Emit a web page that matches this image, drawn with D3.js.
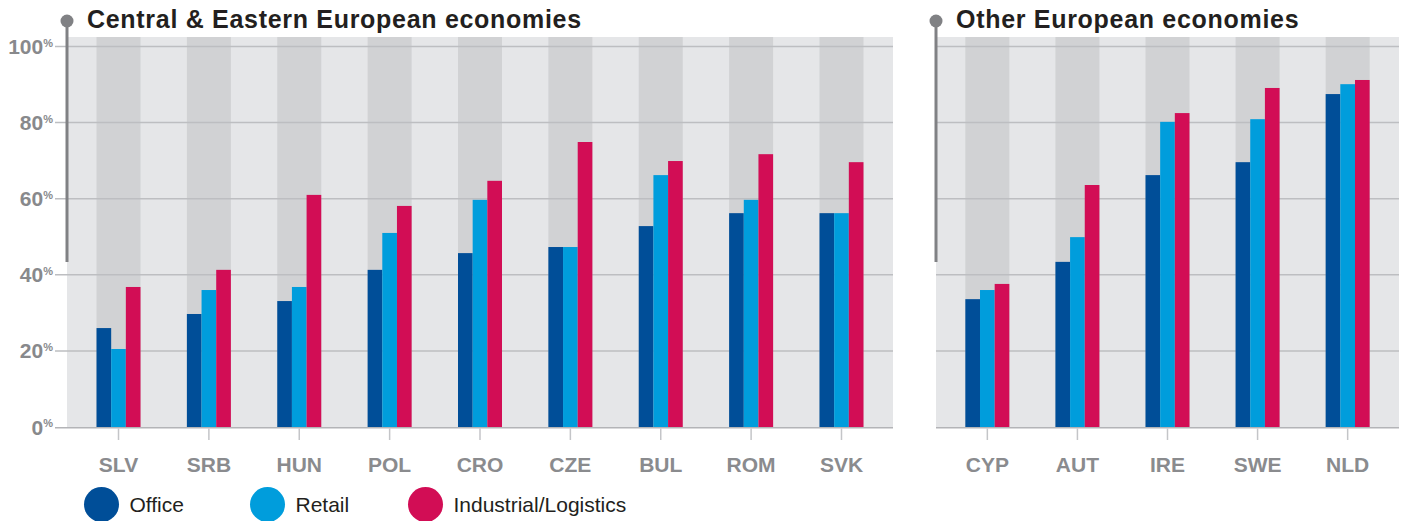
<!DOCTYPE html>
<html>
<head>
<meta charset="utf-8">
<script src="https://cdn.jsdelivr.net/npm/d3@7"></script>
<style>
  body { margin: 0; background: #fff; }
  svg { display: block; font-family: "Liberation Sans", Arial, sans-serif; }
</style>
</head>
<body>
<div id="chart"></div>
<script>
// values (% of ...)
const ceeCountries = ["SLV", "SRB", "HUN", "POL", "CRO", "CZE", "BUL", "ROM", "SVK"];
const ceeOffice = [26.0, 29.7, 33.1, 41.3, 45.7, 47.3, 52.8, 56.2, 56.2];
const ceeRetail = [20.5, 36.0, 36.8, 51.0, 59.7, 47.3, 66.2, 59.7, 56.2];
const ceeIndustrial = [36.8, 41.3, 61.0, 58.1, 64.7, 74.9, 69.9, 71.7, 69.6];

const otherCountries = ["CYP", "AUT", "IRE", "SWE", "NLD"];
const otherOffice = [33.6, 43.4, 66.2, 69.6, 87.5];
const otherRetail = [36.0, 49.9, 80.2, 80.9, 90.1];
const otherIndustrial = [37.6, 63.6, 82.5, 89.1, 91.2];

const seriesNames = ["Office", "Retail", "Industrial/Logistics"];
const yTicks = [0, 20, 40, 60, 80, 100];
const titles = ["Central & Eastern European economies", "Other European economies"];

const colors = { Office: "#004e98", Retail: "#009ddc", "Industrial/Logistics": "#d20d55" };

const width = 1407;
const height = 521;
const panelTop = 37;
const base = 427;

const svg = d3
  .select("#chart")
  .append("svg")
  .attr("width", width)
  .attr("height", height);

const y = d3.scaleLinear().domain([0, 100]).range([base, 46.5]);

const panels = [
  { title: titles[0], x0: 67, x1: 893, countries: ceeCountries, series: [ceeOffice, ceeRetail, ceeIndustrial] },
  { title: titles[1], x0: 936, x1: 1399, countries: otherCountries, series: [otherOffice, otherRetail, otherIndustrial] }
];

const groupW = 44;
const sub = d3.scaleBand().domain(seriesNames).range([-groupW / 2, groupW / 2]);

panels.forEach((p, i) => {
  const x = d3.scalePoint().domain(p.countries).range([p.x0, p.x1]).padding(0.57);
  const g = svg.append("g");
  const gridStart = i === 0 ? 55 : p.x0;

  g.append("rect")
    .attr("x", p.x0)
    .attr("y", panelTop)
    .attr("width", p.x1 - p.x0)
    .attr("height", base - panelTop)
    .attr("fill", "#e5e6e8");

  g.selectAll(".band")
    .data(p.countries)
    .join("rect")
    .attr("x", (d) => x(d) - groupW / 2)
    .attr("y", panelTop)
    .attr("width", groupW)
    .attr("height", base - panelTop)
    .attr("fill", "#d1d2d4");

  g.selectAll(".grid")
    .data(yTicks.filter((v) => v > 0))
    .join("line")
    .attr("x1", gridStart)
    .attr("x2", p.x1)
    .attr("y1", (d) => y(d))
    .attr("y2", (d) => y(d))
    .attr("stroke", "#bdbec1")
    .attr("stroke-width", 1.5);

  const rows = p.countries.map((c, k) => ({
    country: c,
    values: seriesNames.map((s, j) => ({ key: s, value: p.series[j][k] }))
  }));

  g.selectAll(".group")
    .data(rows)
    .join("g")
    .attr("transform", (d) => `translate(${x(d.country)},0)`)
    .selectAll("rect")
    .data((d) => d.values)
    .join("rect")
    .attr("x", (d) => sub(d.key))
    .attr("y", (d) => y(d.value))
    .attr("width", sub.bandwidth())
    .attr("height", (d) => base - y(d.value))
    .attr("fill", (d) => colors[d.key]);

  // baseline
  g.append("line")
    .attr("x1", gridStart)
    .attr("x2", p.x1)
    .attr("y1", base + 0.75)
    .attr("y2", base + 0.75)
    .attr("stroke", "#b3b4b7")
    .attr("stroke-width", 1.5);

  g.selectAll(".tick")
    .data(p.countries)
    .join("line")
    .attr("x1", (d) => x(d))
    .attr("x2", (d) => x(d))
    .attr("y1", base + 1.5)
    .attr("y2", 440)
    .attr("stroke", "#c4c5c8")
    .attr("stroke-width", 1.5);

  g.selectAll(".cat")
    .data(p.countries)
    .join("text")
    .attr("x", (d) => x(d))
    .attr("y", 471.5)
    .attr("text-anchor", "middle")
    .style("font-size", "21px")
    .style("font-weight", "bold")
    .attr("fill", "#8a8b8e")
    .text((d) => d);

  // axis stem with dot
  g.append("line")
    .attr("x1", p.x0)
    .attr("x2", p.x0)
    .attr("y1", 21)
    .attr("y2", 262)
    .attr("stroke", "#808184")
    .attr("stroke-width", 3);

  g.append("circle")
    .attr("cx", p.x0)
    .attr("cy", 21)
    .attr("r", 6.5)
    .attr("fill", "#808184");

  g.append("text")
    .attr("x", p.x0 + 20)
    .attr("y", 27.5)
    .style("font-size", "25px")
    .style("font-weight", "bold")
    .style("letter-spacing", "0.7px")
    .attr("fill", "#231f20")
    .text(p.title);
});

// y labels with small superscript %
const yLabels = svg
  .selectAll(".ylab")
  .data(yTicks)
  .join("text")
  .attr("x", 53)
  .attr("y", (d) => y(d) + 7.5)
  .attr("text-anchor", "end")
  .style("font-weight", "bold")
  .attr("fill", "#88898c");

yLabels.append("tspan").style("font-size", "21px").text((d) => d);
yLabels.append("tspan").attr("dy", -7.5).style("font-size", "11px").text("%");

// legend
const legendX = [101.5, 267.5, 425.5];
const legend = svg
  .selectAll(".legend")
  .data(seriesNames)
  .join("g")
  .attr("transform", (d, i) => `translate(${legendX[i]},504.5)`);

legend.append("circle").attr("r", 17.5).attr("fill", (d) => colors[d]);

legend
  .append("text")
  .attr("x", 28)
  .attr("y", 7.5)
  .style("font-size", "21px")
  .attr("fill", "#231f20")
  .text((d) => d);
</script>
</body>
</html>
